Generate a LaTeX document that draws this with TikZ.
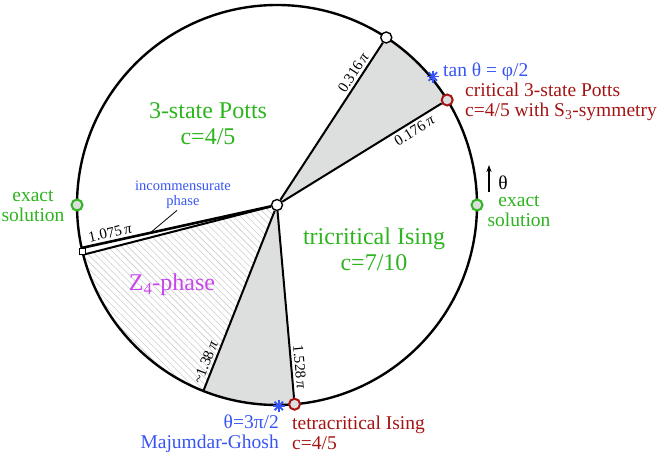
\documentclass[tikz,border=0pt]{standalone}
\usepackage{fontspec}
\setmainfont{Liberation Serif}
\usetikzlibrary{patterns.meta,arrows.meta}
\definecolor{cgreen}{RGB}{45,180,30}
\definecolor{cblue}{RGB}{55,85,245}
\definecolor{cmag}{RGB}{200,70,235}
\definecolor{cred}{RGB}{165,20,20}
\definecolor{cfill}{RGB}{221,223,223}
\definecolor{chatch}{RGB}{205,205,205}
\newcommand{\mypi}{\,{\itshape π}}
\begin{document}
\begin{tikzpicture}[x=1pt,y=1pt,
  phaseline/.style={line width=2pt},
  biglabel/.style={font=\fontsize{24}{26}\selectfont, align=center},
  sidelabel/.style={font=\fontsize{19.5}{19.5}\selectfont, inner sep=0pt},
  anglabel/.style={font=\fontsize{15}{15}\selectfont, sloped, inner sep=2.5pt},
  hollow/.style={circle, draw, fill=white, line width=1.4pt, minimum size=11pt, inner sep=0pt},
  critpt/.style={circle, draw=cred, fill=cfill, line width=2pt, minimum size=11pt, inner sep=0pt},
  exactpt/.style={circle, draw=cgreen, fill=cfill, line width=2pt, minimum size=11pt, inner sep=0pt},
]
\useasboundingbox (0,0) rectangle (664,458);
\coordinate (C) at (277,253);
\coordinate (A1) at ([shift={(56.88:200)}]C);
\coordinate (A2) at ([shift={(31.68:200)}]C);
\coordinate (B1) at ([shift={(192.4:200)}]C);
\coordinate (B2) at ([shift={(194.4:200)}]C);
\coordinate (SQ) at ([shift={(193.4:200)}]C);
\coordinate (A4) at ([shift={(248.4:200)}]C);
\coordinate (A5) at ([shift={(275.04:200)}]C);
\coordinate (ast1) at ([shift={(39.5:202)}]C);
\coordinate (ast2) at ([shift={(270.5:201)}]C);

% regions
\fill[cfill] (C) -- (A2) arc[start angle=31.68, end angle=56.88, radius=200] -- cycle;
\fill[cfill] (C) -- (A4) arc[start angle=248.4, end angle=275.04, radius=200] -- cycle;
\fill[pattern={Lines[angle=-45,distance=4.8pt,line width=0.6pt]}, pattern color=chatch]
  (C) -- (B2) arc[start angle=194.4, end angle=248.4, radius=200] -- cycle;

% outer circle
\draw[line width=2.4pt] (C) circle[radius=200];

% points
\node[hollow] (hub) at (C) {};
\node[hollow] (top) at (A1) {};
\node[critpt] (potts) at (A2) {};
\node[critpt] (tetra) at (A5) {};
\node[exactpt] (ex0) at ([shift={(0:200)}]C) {};
\node[exactpt] (expi) at ([shift={(180:200)}]C) {};

% phase boundaries
\draw[phaseline] (hub) -- (top) node[anglabel, pos=0.78, above] (l1) {0.316\mypi};
\draw[phaseline] (hub) -- (potts) node[anglabel, pos=0.8, below] (l2) {0.176\mypi};
\draw[line width=2.6pt] (hub) -- (B1) node[anglabel, pos=0.84, above] (l3) {1.075\mypi};
\draw[phaseline] (hub) -- (B2);
\draw[phaseline] (hub) -- (A4) node[anglabel, pos=0.86, above] (l4) {\textasciitilde1.38\mypi};
\draw[phaseline] (hub) -- (tetra) node[anglabel, pos=0.84, above] (l5) {1.528\mypi};
\node[draw, fill=white, line width=1pt, minimum size=6.5pt, inner sep=0pt] (sq) at (SQ) {};

% asterisks
\foreach \a in {0,45,90,135} {
  \draw[cblue, line width=1.8pt] ([shift={(\a:6)}]ast1) -- ([shift={(\a+180:6)}]ast1);
  \draw[cblue, line width=1.8pt] ([shift={(\a:6)}]ast2) -- ([shift={(\a+180:6)}]ast2);
}

% region labels
\node[biglabel, text=cgreen] (pottsreg) at (208,334) {3-state Potts\\c=4/5};
\node[biglabel, text=cgreen] (tricreg) at (374,209) {tricritical Ising\\c=7/10};
\node[biglabel, text=cmag] (z4) at (172,173) {Z\textsubscript{4}-phase};
\node[font=\fontsize{14.5}{15}\selectfont, text=cblue, align=center] (incomm) at (183,263) {incommensurate\\phase};
\coordinate (ptr) at (150,225);
\draw[line width=0.8pt] ([xshift=-6pt,yshift=2pt]incomm.south) -- (ptr);

% side labels
\node[sidelabel, text=cgreen, align=center] (exl) at (33,252) {exact\\solution};
\node[sidelabel, text=cgreen, align=center] (exr) at (519,247) {exact\\solution};
\node[sidelabel, text=cblue, anchor=west] (tanl) at (443,386) {tan θ = φ/2};
\node[sidelabel, text=cred, anchor=west, align=left] (critl) at (465,356) {critical 3-state Potts\\c=4/5 with S\textsubscript{3}-symmetry};
\node[sidelabel, text=cblue, anchor=east, align=right] (mgl) at (279,24) {θ=3π/2\\Majumdar-Ghosh};
\node[sidelabel, text=cred, anchor=west, align=left] (tetral) at (292,25) {tetracritical Ising\\c=4/5};

% theta arrow
\coordinate (thA) at (489,266);
\coordinate (thB) at (489,293);
\draw[-{Stealth[length=7pt,width=5pt]}, line width=1.2pt] (thA) -- (thB);
\node[sidelabel] (thl) at (503,275) {θ};
\end{tikzpicture}
\end{document}
